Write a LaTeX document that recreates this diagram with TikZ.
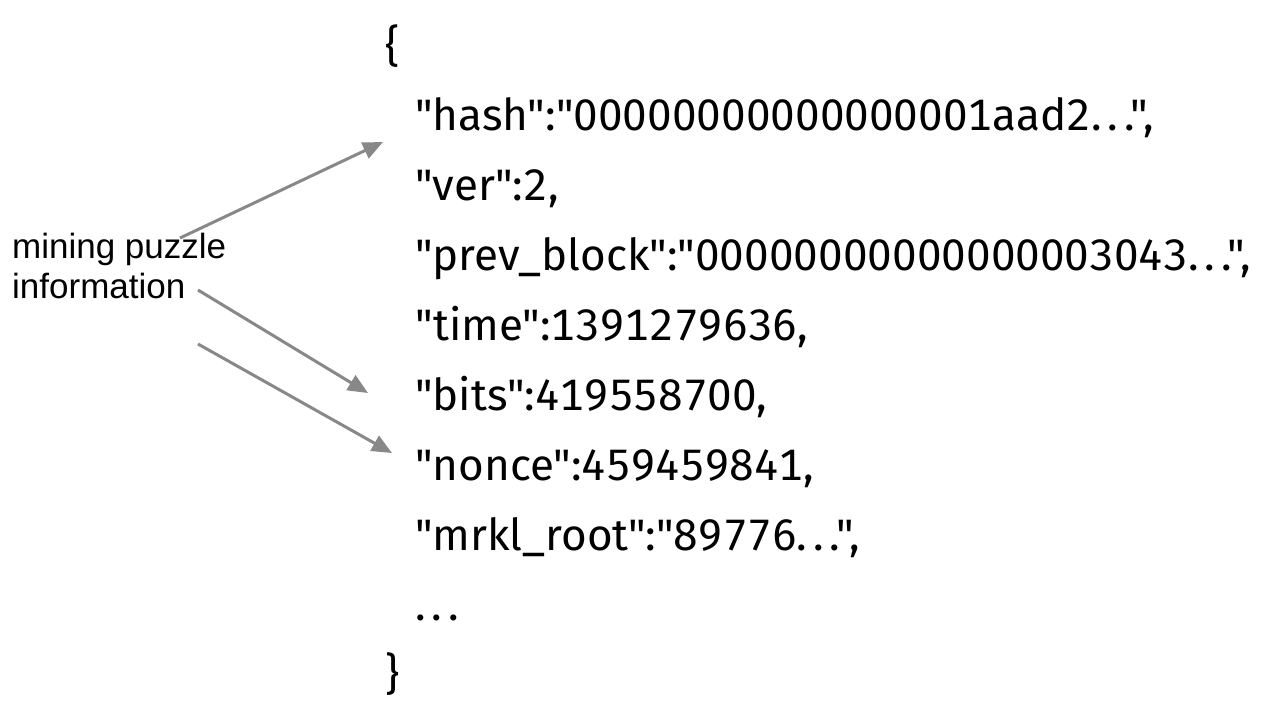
\documentclass[tikz,border=0pt]{standalone}
\usepackage{fontspec}
\usepackage{tikz}
\usepackage{xcolor}
\usetikzlibrary{arrows.meta}
\newfontfamily\jsonfont{Fira Sans}[Numbers=Monospaced]
\newfontfamily\notefont{Liberation Sans}
\definecolor{arrowgray}{RGB}{136,136,136}
\newcommand{\cut}{.\kern6pt.\kern6pt.}

\begin{document}
\begin{tikzpicture}[x=1pt,y=-1pt,>={Triangle[length=20pt,width=17pt]}]
  \tikzstyle{field}=[anchor=base west,inner sep=0pt,font=\jsonfont\fontsize{44}{44}\selectfont]
  \tikzstyle{note}=[anchor=base west,inner sep=0pt,align=left,font=\notefont\fontsize{35}{40}\selectfont]
  \tikzstyle{pointer}=[->,draw=arrowgray,fill=arrowgray,line width=3pt]

  \useasboundingbox (0,0) rectangle (1276,724);

  % the block header
  \node[field] (open)  at (385,61)  {\{};
  \node[field] (hash)  at (415,130) {"hash":"00000000000000001aad2\cut",};
  \node[field] (ver)   at (415,200) {"ver":2,};
  \node[field] (prev)  at (415,270) {"prev\_block":"00000000000000003043\cut",};
  \node[field] (time)  at (415,340) {"time":1391279636,};
  \node[field] (bits)  at (415,410) {"bits":419558700,};
  \node[field] (nonce) at (415,480) {"nonce":459459841,};
  \node[field] (mrkl)  at (415,550) {"mrkl\_root":"89776\cut",};
  \node[field] (more)  at (415,620) {\cut};
  \node[field] (close) at (385,689) {\}};

  \node[note] (puzzle) at (12,298) {mining puzzle\\information};

  \coordinate (tailA) at (180,238);
  \coordinate (tipA)  at (383,142);
  \coordinate (tailB) at (198,290);
  \coordinate (tipB)  at (368,393);
  \coordinate (tailC) at (198,344);
  \coordinate (tipC)  at (392,453);

  \draw[pointer] (tailA) -- (tipA);
  \draw[pointer] (tailB) -- (tipB);
  \draw[pointer] (tailC) -- (tipC);

\end{tikzpicture}
\end{document}
